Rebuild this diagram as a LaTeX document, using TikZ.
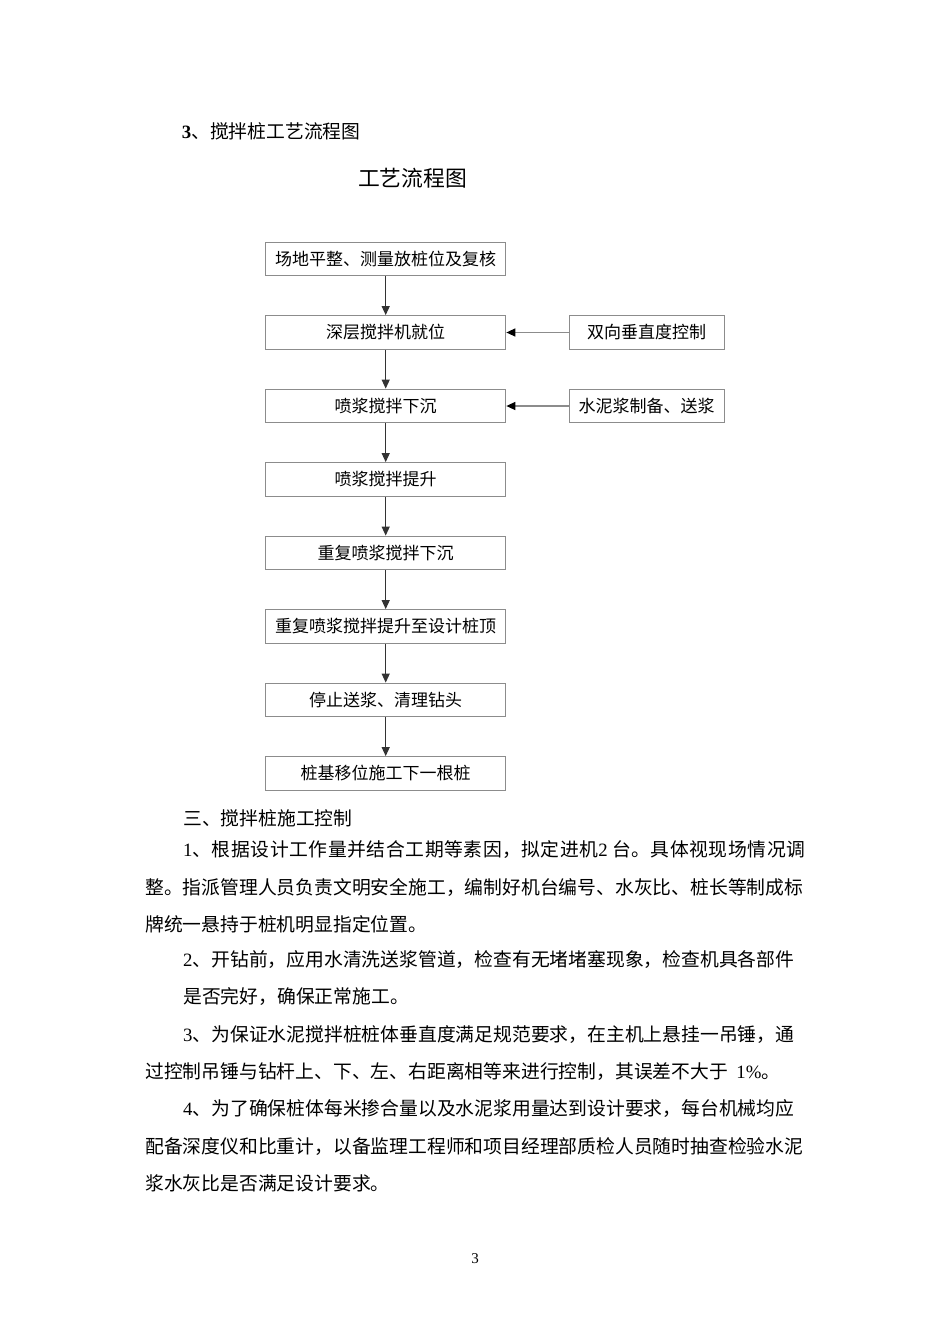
\documentclass[tikz,border=0pt]{standalone}
\usepackage{fontspec}
\setmainfont{Noto Sans CJK SC}
\newfontfamily\latin{Liberation Serif}
\usetikzlibrary{arrows.meta}
\tikzset{>={Triangle[length=9pt,width=8pt]}}
\XeTeXlinebreaklocale "zh"
\XeTeXlinebreakskip=0pt plus 2pt minus 0.5pt
\newcommand{\bodyfont}{\fontsize{18.8}{22}\selectfont}
\newcommand{\boxfont}{\fontsize{17}{20}\selectfont}

\begin{document}
\begin{tikzpicture}[x=1pt,y=-1pt,
    stepbox/.style={draw=black!45, line width=1.3pt, minimum width=240pt,
        minimum height=33.5pt, inner sep=0pt, font=\boxfont},
    sidebox/.style={stepbox, minimum width=155pt},
    para/.style={anchor=west, inner sep=0pt, font=\bodyfont}]
    \useasboundingbox (0,0) rectangle (950,1344);
    \node[para] (head) at (181.7,131) {{\latin\bfseries 3}、搅拌桩工艺流程图};
    \node[inner sep=0pt, font=\fontsize{21.8}{24}\selectfont] (title) at (412.5,178) {工艺流程图};
    % flow chart
    \node[stepbox] (s1) at (385.7,259) {场地平整、测量放桩位及复核};
    \node[stepbox] (s2) at (385.7,332.5) {深层搅拌机就位};
    \node[stepbox] (s3) at (385.7,406) {喷浆搅拌下沉};
    \node[stepbox] (s4) at (385.7,479.5) {喷浆搅拌提升};
    \node[stepbox] (s5) at (385.7,553) {重复喷浆搅拌下沉};
    \node[stepbox] (s6) at (385.7,626.5) {重复喷浆搅拌提升至设计桩顶};
    \node[stepbox] (s7) at (385.7,700) {停止送浆、清理钻头};
    \node[stepbox] (s8) at (385.7,773.5) {桩基移位施工下一根桩};
    \node[sidebox] (c1) at (646.7,332.5) {双向垂直度控制};
    \node[sidebox] (c2) at (646.7,406) {水泥浆制备、送浆};
    \foreach \a/\b in {s1/s2, s2/s3, s3/s4, s4/s5, s5/s6, s6/s7, s7/s8}
        \draw[->, black!80, line width=1.2pt] (\a) -- (\b);
    \draw[-{Triangle[length=9pt,width=8pt,color=black]}, black!45, line width=1.3pt] (c1) -- (s2);
    \draw[-{Triangle[length=9pt,width=8pt,color=black]}, black!45, line width=1.3pt] (c2) -- (s3);
    % text below
    \node[para] (p0) at (183,818) {三、搅拌桩施工控制};
    \node[para, text width=622pt, align=justify] (p1) at (183,850)
        {\parfillskip=0pt\noindent{\latin 1}、根据设计工作量并结合工期等素因，拟定进机{\latin 2} 台。具体视现场情况调\par};
    \node[para] (p2) at (145,887) {整。指派管理人员负责文明安全施工，编制好机台编号、水灰比、桩长等制成标};
    \node[para] (p3) at (145,924) {牌统一悬持于桩机明显指定位置。};
    \node[para] (p4) at (183,960) {{\latin 2}、开钻前，应用水清洗送浆管道，检查有无堵堵塞现象，检查机具各部件};
    \node[para] (p5) at (183,997) {是否完好，确保正常施工。};
    \node[para] (p6) at (183,1035) {{\latin 3}、为保证水泥搅拌桩桩体垂直度满足规范要求，在主机上悬挂一吊锤，通};
    \node[para] (p7) at (145,1072) {过控制吊锤与钻杆上、下、左、右距离相等来进行控制，其误差不大于\ \ {\latin 1\%}。};
    \node[para] (p8) at (183,1109) {{\latin 4}、为了确保桩体每米掺合量以及水泥浆用量达到设计要求，每台机械均应};
    \node[para] (p9) at (145,1147) {配备深度仪和比重计，以备监理工程师和项目经理部质检人员随时抽查检验水泥};
    \node[para] (p10) at (145,1183) {浆水灰比是否满足设计要求。};
    \node[inner sep=0pt, font=\latin\fontsize{15}{18}\selectfont] (pagenum) at (475,1259) {3};
\end{tikzpicture}
\end{document}
